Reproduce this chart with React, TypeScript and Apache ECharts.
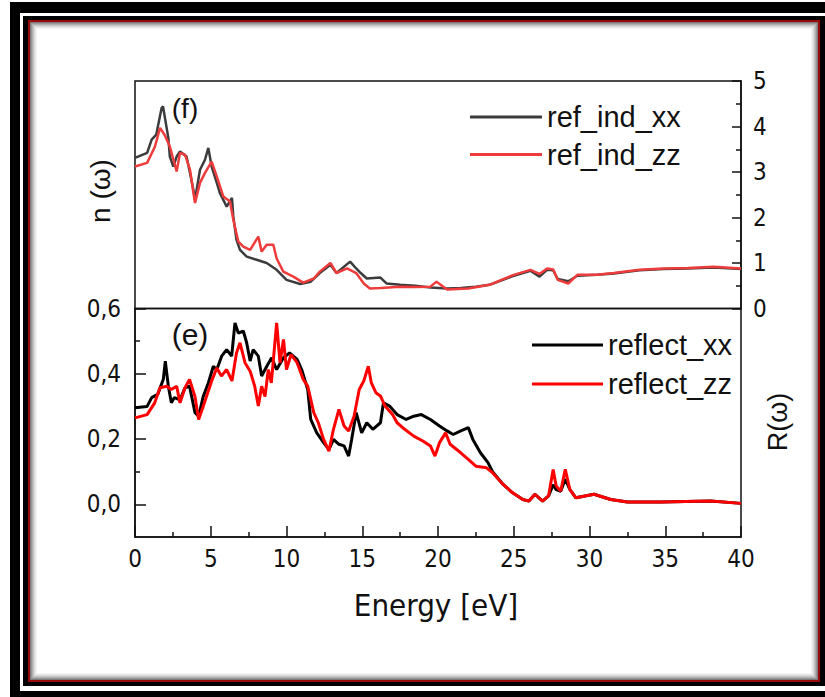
import React, { useEffect, useRef } from "react";
import * as echarts from "echarts";

// ---------- data ----------
const nXxE = [0, 0.8, 1.1, 1.4, 1.76, 1.85, 2.2, 2.3, 2.53, 2.75, 2.97, 3.4, 3.63, 3.85, 3.96, 4.29, 4.62, 4.84, 5.06, 5.4, 5.6, 6.05, 6.4, 6.49, 6.7, 6.93, 7.37, 8.03, 8.69, 9.35, 10.0, 10.9, 11.6, 12.2, 12.9, 13.3, 14.2, 14.6, 14.9, 15.3, 16.2, 16.6, 17.5, 18.5, 19.5, 20.6, 21.5, 22.5, 23.4, 24.2, 25.0, 26.1, 26.7, 27.2, 27.6, 27.9, 28.6, 29.2, 30.5, 31.6, 33.3, 34.9, 36.5, 38.2, 40];
const nXx = [3.31, 3.42, 3.71, 3.82, 4.41, 4.44, 3.75, 3.34, 3.12, 3.34, 3.45, 3.34, 2.98, 2.61, 2.39, 3.05, 3.27, 3.53, 3.12, 2.76, 2.54, 2.24, 2.43, 2.02, 1.51, 1.29, 1.14, 1.07, 1.0, 0.85, 0.63, 0.54, 0.59, 0.78, 0.96, 0.78, 1.03, 0.88, 0.78, 0.66, 0.68, 0.55, 0.52, 0.5, 0.46, 0.44, 0.45, 0.48, 0.52, 0.62, 0.72, 0.83, 0.7, 0.85, 0.84, 0.65, 0.6, 0.72, 0.74, 0.77, 0.84, 0.87, 0.88, 0.9, 0.87];

const nZzE = [0, 0.8, 1.32, 1.65, 1.95, 2.3, 2.75, 2.97, 3.3, 3.63, 3.96, 4.29, 4.62, 5.06, 5.4, 5.83, 6.27, 6.49, 6.82, 7.15, 7.6, 8.14, 8.36, 8.69, 9.13, 9.35, 9.79, 10.45, 11.1, 11.8, 12.2, 12.9, 13.3, 14.0, 14.6, 15.1, 15.5, 16.2, 17.5, 18.5, 19.5, 19.9, 20.6, 22.0, 23.4, 25.0, 26.1, 26.7, 27.2, 27.6, 27.9, 28.6, 29.2, 30.5, 31.6, 33.3, 34.9, 36.5, 38.2, 40];
const nZz = [3.12, 3.2, 3.56, 3.97, 3.82, 3.56, 3.01, 3.42, 3.38, 3.05, 2.32, 2.76, 2.98, 3.23, 2.9, 2.46, 2.35, 1.95, 1.47, 1.36, 1.29, 1.58, 1.25, 1.4, 1.4, 1.1, 0.81, 0.7, 0.57, 0.66, 0.81, 1.0, 0.78, 0.88, 0.78, 0.55, 0.44, 0.45, 0.48, 0.47, 0.48, 0.59, 0.42, 0.44, 0.52, 0.74, 0.85, 0.76, 0.88, 0.86, 0.63, 0.55, 0.74, 0.74, 0.78, 0.85, 0.88, 0.89, 0.92, 0.88];

const rXxE = [0, 0.8, 1.1, 1.5, 1.87, 2.0, 2.2, 2.4, 2.6, 2.97, 3.3, 3.6, 3.96, 4.2, 4.5, 4.84, 5.17, 5.4, 5.72, 6.05, 6.38, 6.6, 6.82, 7.15, 7.37, 7.6, 7.8, 8.14, 8.36, 8.7, 9.02, 9.35, 9.8, 10.2, 10.7, 11.0, 11.4, 11.6, 12.0, 12.45, 12.8, 13.1, 13.46, 13.8, 14.1, 14.3, 14.6, 14.96, 15.3, 15.7, 16.2, 16.4, 16.8, 17.3, 17.9, 18.4, 18.9, 19.5, 20.1, 20.6, 21.0, 21.5, 22.0, 22.3, 22.8, 23.3, 23.6, 24.3, 24.9, 25.6, 26.0, 26.4, 26.9, 27.3, 27.6, 27.8, 28.1, 28.4, 28.7, 29.1, 30.3, 31.4, 32.5, 34.7, 38.0, 40];
const rXx = [0.296, 0.3, 0.327, 0.337, 0.383, 0.439, 0.362, 0.311, 0.327, 0.32, 0.357, 0.362, 0.281, 0.27, 0.33, 0.372, 0.423, 0.413, 0.454, 0.474, 0.454, 0.556, 0.525, 0.531, 0.495, 0.439, 0.474, 0.454, 0.393, 0.423, 0.449, 0.413, 0.449, 0.464, 0.444, 0.413, 0.352, 0.26, 0.219, 0.189, 0.168, 0.199, 0.184, 0.179, 0.148, 0.199, 0.281, 0.219, 0.25, 0.23, 0.25, 0.311, 0.301, 0.275, 0.26, 0.27, 0.275, 0.26, 0.24, 0.225, 0.214, 0.225, 0.235, 0.199, 0.158, 0.128, 0.1, 0.061, 0.036, 0.015, 0.01, 0.031, 0.01, 0.026, 0.06, 0.045, 0.04, 0.077, 0.046, 0.02, 0.031, 0.015, 0.007, 0.007, 0.01, 0.003];

const rZzE = [0, 0.8, 1.3, 1.65, 2.1, 2.4, 2.75, 2.97, 3.3, 3.6, 3.96, 4.2, 4.5, 4.8, 5.1, 5.4, 5.7, 6.05, 6.4, 6.7, 6.93, 7.26, 7.6, 7.9, 8.14, 8.36, 8.58, 8.8, 9.0, 9.35, 9.57, 9.8, 10.0, 10.3, 10.7, 11.1, 11.4, 11.8, 12.1, 12.45, 12.8, 13.1, 13.46, 13.8, 14.1, 14.46, 14.8, 15.1, 15.4, 15.6, 15.9, 16.2, 16.5, 17.0, 17.3, 17.8, 18.4, 19.0, 19.5, 19.8, 20.1, 20.5, 20.8, 21.5, 22.0, 22.5, 23.2, 23.6, 24.3, 24.9, 25.6, 26.0, 26.4, 26.9, 27.3, 27.6, 27.8, 28.1, 28.4, 28.7, 29.1, 30.3, 31.4, 32.5, 34.7, 38.0, 40];
const rZz = [0.265, 0.275, 0.311, 0.357, 0.362, 0.352, 0.362, 0.311, 0.357, 0.383, 0.33, 0.26, 0.3, 0.342, 0.383, 0.418, 0.393, 0.413, 0.378, 0.464, 0.495, 0.434, 0.408, 0.362, 0.301, 0.362, 0.33, 0.413, 0.372, 0.556, 0.434, 0.505, 0.413, 0.459, 0.434, 0.383, 0.362, 0.281, 0.25, 0.199, 0.163, 0.23, 0.291, 0.24, 0.225, 0.27, 0.352, 0.378, 0.423, 0.372, 0.342, 0.332, 0.301, 0.275, 0.25, 0.23, 0.209, 0.194, 0.179, 0.148, 0.189, 0.219, 0.184, 0.158, 0.138, 0.117, 0.112, 0.097, 0.061, 0.036, 0.015, 0.01, 0.031, 0.01, 0.026, 0.107, 0.056, 0.041, 0.107, 0.046, 0.02, 0.031, 0.015, 0.007, 0.007, 0.01, 0.003];

const xTicks = [0, 5, 10, 15, 20, 25, 30, 35, 40];
const rMajor = [0, 0.2, 0.4, 0.6];
const rMinor = [0.1, 0.3, 0.5];

const NARROW = '"Liberation Sans Narrow", "Arial Narrow", "DejaVu Sans Condensed", sans-serif';
const SANS = '"Liberation Sans", Arial, sans-serif';
const INK = "#111";

const zip = (xs: number[], ys: number[]) => xs.map((x, i) => [x, ys[i]]);

function frame() {
  const els: any[] = [];
  const rect = (x: number, y: number, w: number, h: number, fill: string) =>
    els.push({ type: "rect", z: -10, silent: true, shape: { x, y, width: w, height: h }, style: { fill } });
  rect(10, 2, 830, 700, "#000");
  rect(20, 13, 820, 678, "#fff");
  rect(23, 16, 810, 670, "#000");
  rect(28, 20, 792, 662, "#9b0a0a");
  const shades = ["#7a7a7a", "#979797", "#b0b0b0", "#c6c6c6", "#d9d9d9", "#e8e8e8", "#f4f4f4", "#ffffff"];
  shades.forEach((c, i) => rect(30 + i, 22 + i, 788 - 2 * i, 658 - 2 * i, c));
  return els;
}

export default function App() {
  const ref = useRef<HTMLDivElement>(null);
  useEffect(() => {
    if (!ref.current) return;
    const chart = echarts.init(ref.current, null, { renderer: "svg" });
    const axisLine = { show: true, onZero: false, lineStyle: { color: INK, width: 1.5 } };
    const legendBase = {
      orient: "vertical", itemHeight: 3,
      icon: "rect",
      textStyle: { fontSize: 29, lineHeight: 30, fontFamily: SANS, color: INK },
    };
    const option: any = {
      animation: false,
      backgroundColor: "#fff",
      grid: [
        { left: 135, top: 81, width: 606, height: 227.5, show: true, borderColor: INK, borderWidth: 1.5, backgroundColor: "transparent" },
        { left: 135, top: 308.5, width: 606, height: 228.5, show: true, borderColor: INK, borderWidth: 1.5, backgroundColor: "transparent" },
      ],
      xAxis: [
        { gridIndex: 0, type: "value", min: 0, max: 40, show: false },
        {
          gridIndex: 1, type: "value", min: 0, max: 40, interval: 5,
          axisLine,
          axisTick: { inside: true, length: 11, lineStyle: { color: INK, width: 1.5 } },
          minorTick: { show: true, splitNumber: 2, length: 5, lineStyle: { color: INK, width: 1.5 } },
          splitLine: { show: false },
          axisLabel: { fontSize: 24, fontFamily: NARROW, color: INK, margin: 10, customValues: xTicks },
        },
      ],
      yAxis: [
        {
          gridIndex: 0, type: "value", position: "right", min: 0, max: 5, interval: 1,
          axisLine,
          axisTick: { inside: true, length: 9, lineStyle: { color: INK, width: 1.5 } },
          minorTick: { show: true, splitNumber: 2, length: 5, lineStyle: { color: INK, width: 1.5 } },
          splitLine: { show: false },
          axisLabel: { fontSize: 24, fontFamily: NARROW, color: INK, margin: 12 },
        },
        {
          gridIndex: 1, type: "value", position: "left", min: -0.1, max: 0.6,
          axisLine,
          axisTick: { inside: true, length: 11, customValues: rMajor, lineStyle: { color: INK, width: 1.5 } },
          splitLine: { show: false },
          axisLabel: {
            fontSize: 24, fontFamily: NARROW, color: INK, margin: 14, customValues: rMajor,
            formatter: (v: number) => v.toFixed(1).replace(".", ","),
          },
        },
        {
          gridIndex: 1, type: "value", position: "left", min: -0.1, max: 0.6,
          axisLine: { show: false },
          axisTick: { inside: true, length: 5, customValues: rMinor, lineStyle: { color: INK, width: 1.5 } },
          splitLine: { show: false },
          axisLabel: { show: false },
        },
      ],
      legend: [
        { ...legendBase, data: ["ref_ind_xx", "ref_ind_zz"], left: 465, top: 97, itemWidth: 72, itemGap: 7.6 },
        { ...legendBase, data: ["reflect_xx", "reflect_zz"], left: 527, top: 325, itemWidth: 71, itemGap: 9 },
      ],
      series: [
        { name: "ref_ind_xx", type: "line", xAxisIndex: 0, yAxisIndex: 0, data: zip(nXxE, nXx), symbol: "none", lineStyle: { color: "#3c3c3c", width: 2.5 }, itemStyle: { color: "#3c3c3c" } },
        { name: "ref_ind_zz", type: "line", xAxisIndex: 0, yAxisIndex: 0, data: zip(nZzE, nZz), symbol: "none", lineStyle: { color: "#ee3b3b", width: 2.5 }, itemStyle: { color: "#ee3b3b" } },
        { name: "reflect_xx", type: "line", xAxisIndex: 1, yAxisIndex: 1, data: zip(rXxE, rXx), symbol: "none", lineStyle: { color: "#000", width: 3 }, itemStyle: { color: "#000" } },
        { name: "reflect_zz", type: "line", xAxisIndex: 1, yAxisIndex: 1, data: zip(rZzE, rZz), symbol: "none", lineStyle: { color: "#ff0000", width: 3 }, itemStyle: { color: "#ff0000" } },
      ],
      graphic: [
        ...frame(),
        { type: "text", x: 185, y: 108, style: { text: "(f)", fontSize: 28, fontFamily: SANS, fill: INK, align: "center", verticalAlign: "middle" } },
        { type: "text", x: 190, y: 334, style: { text: "(e)", fontSize: 30, fontFamily: SANS, fill: INK, align: "center", verticalAlign: "middle" } },
        { type: "text", x: 100, y: 191, rotation: Math.PI / 2, style: { text: "n (ω)", fontSize: 28, fontFamily: SANS, fill: INK, align: "center", verticalAlign: "middle" } },
        { type: "text", x: 778, y: 422, rotation: Math.PI / 2, style: { text: "R(ω)", fontSize: 27, fontFamily: SANS, fill: INK, align: "center", verticalAlign: "middle" } },
        { type: "text", x: 436, y: 605, style: { text: "Energy [eV]", fontSize: 31, fontFamily: NARROW, fill: INK, align: "center", verticalAlign: "middle" } },
      ],
    };
    chart.setOption(option);
    return () => chart.dispose();
  }, []);
  return <div ref={ref} style={{ position: "absolute", left: 0, top: 0, width: 825, height: 697 }} />;
}
